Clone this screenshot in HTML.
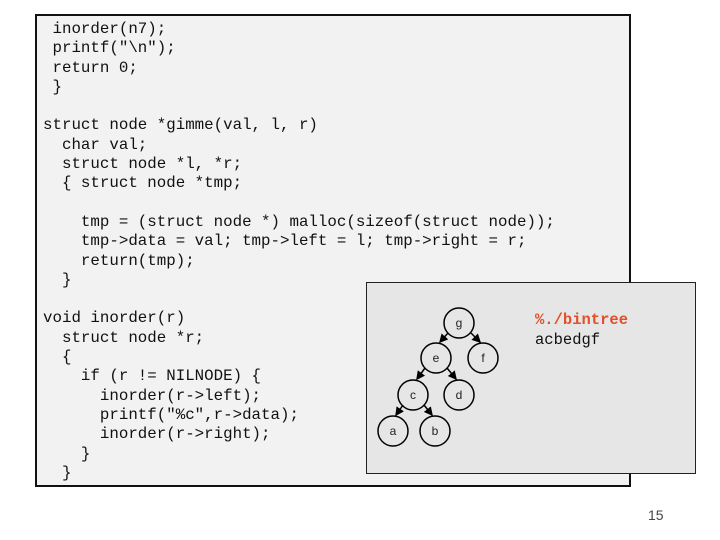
<!DOCTYPE html>
<html><head><style>
body{margin:0;width:720px;height:540px;background:#fff;position:relative;overflow:hidden}
#box{position:absolute;left:35px;top:14px;width:592px;height:469px;border:2px solid #111;background:#f2f2f2}
pre{position:absolute;left:43px;top:20px;margin:0;font-family:"Liberation Mono",monospace;font-size:15.8px;line-height:19.3px;color:#111}
#g{position:absolute;left:366px;top:282px;width:328px;height:190px;border:1.5px solid #222;background:#e6e6e6}
.t{position:absolute;font-family:"Liberation Mono",monospace;font-size:15.5px}
#pn{position:absolute;left:648px;top:507px;font:14px "Liberation Sans",sans-serif;color:#444}
</style></head><body>
<div id="box"></div>
<pre> inorder(n7);
 printf("\n");
 return 0;
 }

struct node *gimme(val, l, r)
  char val;
  struct node *l, *r;
  { struct node *tmp;

    tmp = (struct node *) malloc(sizeof(struct node));
    tmp->data = val; tmp->left = l; tmp->right = r;
    return(tmp);
  }

void inorder(r)
  struct node *r;
  {
    if (r != NILNODE) {
      inorder(r->left);
      printf("%c",r->data);
      inorder(r->right);
    }
  }</pre>
<div id="g"></div>
<svg style="position:absolute;left:0;top:0" width="720" height="540">
<defs><marker id="ar" markerWidth="6" markerHeight="6" refX="5" refY="3" orient="auto"><path d="M0,0L6,3L0,6z" fill="#000"/></marker></defs>
<g stroke="#000" stroke-width="1.5" fill="none">
<line x1="448" y1="333" x2="440" y2="342" marker-end="url(#ar)"/>
<line x1="471" y1="333" x2="480" y2="342" marker-end="url(#ar)"/>
<line x1="425" y1="368" x2="417" y2="379" marker-end="url(#ar)"/>
<line x1="447" y1="368" x2="456" y2="379" marker-end="url(#ar)"/>
<line x1="403" y1="405" x2="396" y2="415" marker-end="url(#ar)"/>
<line x1="424" y1="405" x2="432" y2="415" marker-end="url(#ar)"/>
<circle cx="459" cy="323" r="15"/><circle cx="436" cy="358" r="15"/><circle cx="483" cy="358" r="15"/>
<circle cx="413" cy="395" r="15"/><circle cx="459" cy="395" r="15"/><circle cx="393" cy="431" r="15"/><circle cx="435" cy="431" r="15"/>
</g>
<g font-family="Liberation Sans,sans-serif" font-size="12" text-anchor="middle" fill="#222">
<text x="459" y="327">g</text><text x="436" y="362">e</text><text x="483" y="362">f</text>
<text x="413" y="399">c</text><text x="459" y="399">d</text><text x="393" y="435">a</text><text x="435" y="435">b</text>
</g>
</svg>
<div class="t" style="left:535px;top:311px;color:#e0502a;font-weight:bold">%./bintree</div>
<div class="t" style="left:535px;top:331px;color:#111">acbedgf</div>
<div id="pn">15</div>
</body></html>
